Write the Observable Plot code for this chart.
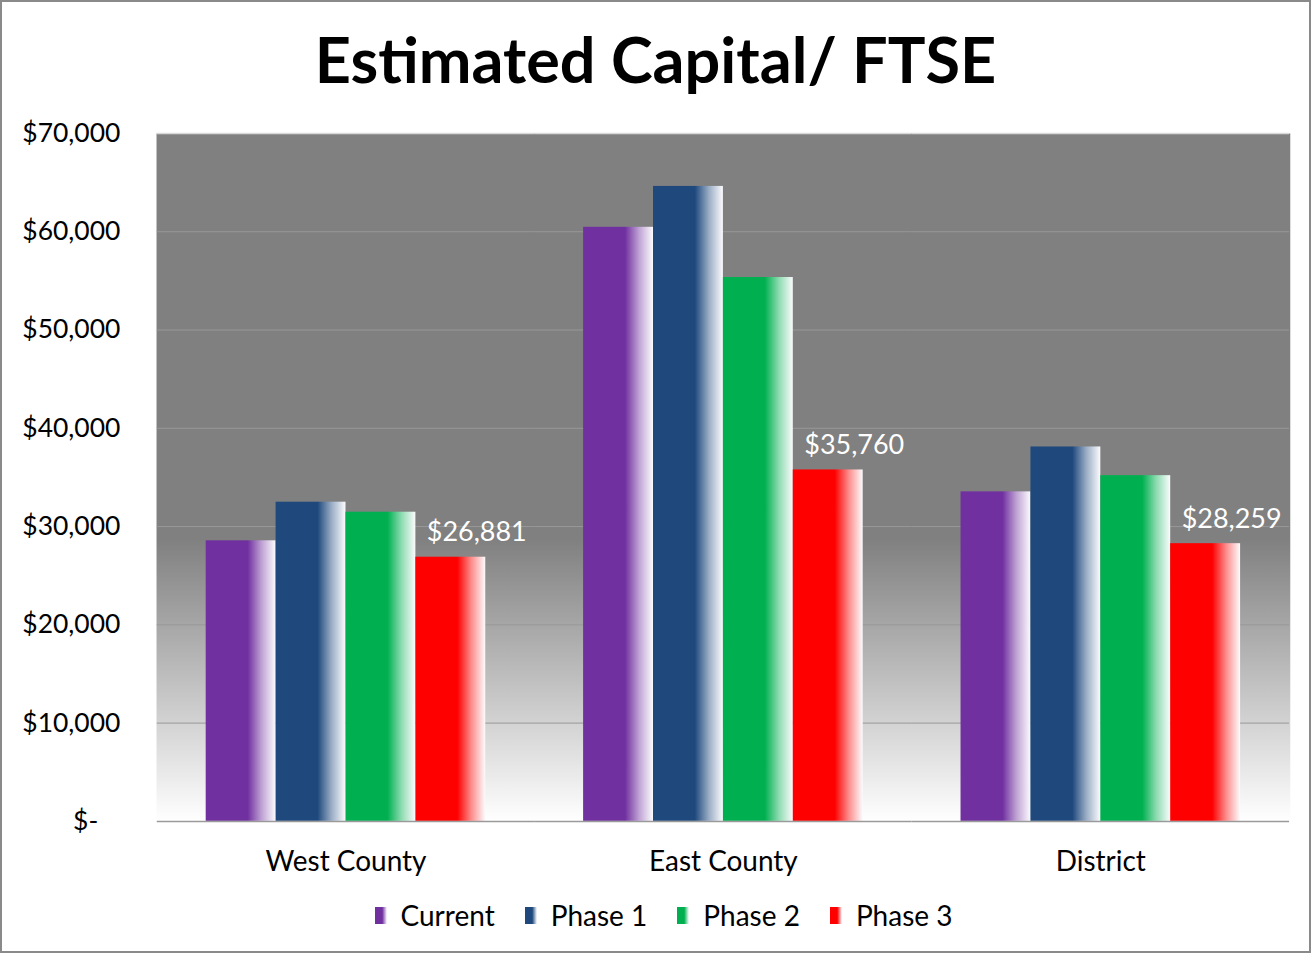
<!DOCTYPE html>
<html>
<head>
<meta charset="utf-8">
<script src="https://cdn.jsdelivr.net/npm/d3@7"></script>
<script src="https://cdn.jsdelivr.net/npm/@observablehq/plot@0.6"></script>
<style>
  html, body { margin: 0; padding: 0; background: #fff; }
  #frame { position: relative; width: 1311px; height: 953px; box-sizing: border-box; border: 2px solid #8a8a8a; background: #fff; font-family: Lato, sans-serif; }
  #title { position: absolute; left: 0; top: 15px; width: 100%; text-align: center; font-weight: 700; font-size: 63px; line-height: 84px; color: #000; }
  #chart { position: absolute; left: -2px; top: 98px; }
  #legend { position: absolute; left: 0; top: 894px; width: 100%; box-sizing: border-box; padding-left: 16px; height: 38px; display: flex; justify-content: center; align-items: center; gap: 30px; font-size: 28px; color: #000; }
  .item { display: flex; align-items: center; gap: 14px; }
  .sw { width: 12px; height: 17px; }
</style>
</head>
<body>
<svg width="0" height="0" style="position:absolute">
  <defs id="defs"></defs>
</svg>
<div id="frame">
  <div id="title">Estimated Capital/ FTSE</div>
  <div id="chart"></div>
  <div id="legend"></div>
</div>
<script>
const categories = ["West County", "East County", "District"];
const series = ["Current", "Phase 1", "Phase 2", "Phase 3"];
const current = [28550, 60450, 33530];
const phase1 = [32480, 64610, 38100];
const phase2 = [31460, 55340, 35180];
const phase3 = [26881, 35760, 28259];
const yTicks = [0, 10000, 20000, 30000, 40000, 50000, 60000, 70000];
const colors = ["#7030A0", "#1F497D", "#00B050", "#FF0000"];

const seriesValues = [current, phase1, phase2, phase3];
const data = [];
categories.forEach((c, ci) => series.forEach((s, si) => data.push({category: c, series: s, value: seriesValues[si][ci]})));
const labelData = data.filter(d => d.series === "Phase 3");

// gradients
const NS = "http://www.w3.org/2000/svg";
const defs = document.getElementById("defs");
function makeGrad(id, stops, vertical) {
  const g = document.createElementNS(NS, "linearGradient");
  g.setAttribute("id", id);
  g.setAttribute("x1", "0"); g.setAttribute("y1", "0");
  g.setAttribute("x2", vertical ? "0" : "1"); g.setAttribute("y2", vertical ? "1" : "0");
  stops.forEach(([o, c]) => {
    const s = document.createElementNS(NS, "stop");
    s.setAttribute("offset", o); s.setAttribute("stop-color", c);
    g.appendChild(s);
  });
  defs.appendChild(g);
}
colors.forEach((c, i) => makeGrad("grad" + i, [[0, c], [0.6, c], [0.8, d3.interpolateRgb(c, "#fff")(0.55)], [1, "#fbfbfd"]], false));
makeGrad("bgGrad", [[0, "#808080"], [0.59, "#808080"], [1, "#ffffff"]], true);

const fmt = v => v === 0 ? "$-\u2007\u00a0" : "$" + d3.format(",")(v);

const chart = Plot.plot({
  width: 1311,
  height: 780,
  marginTop: 33,
  marginBottom: 58,
  marginLeft: 157,
  marginRight: 20,
  style: {fontFamily: "Lato, sans-serif", fontSize: "26.5px", color: "#000", background: "transparent", overflow: "visible"},
  fx: {domain: categories, padding: 0, label: null, tickSize: 0, tickPadding: 30},
  x: {domain: series, axis: null, paddingInner: 0, paddingOuter: 0.662},
  y: {domain: [0, 70000], ticks: yTicks, tickFormat: fmt, tickSize: 0, tickPadding: 37, label: null},
  marks: [
    Plot.frame({fill: "url(#bgGrad)", stroke: null, insetLeft: -0.75, insetRight: -0.75}),
    Plot.ruleY(yTicks.slice(1, -1), {stroke: "#989898", strokeWidth: 1}),
    Plot.ruleY([70000], {stroke: "#d9d9d9", strokeWidth: 1.5}),
    Plot.barY(data, {fx: "category", x: "series", y: "value", fill: d => "url(#grad" + series.indexOf(d.series) + ")"}),
    Plot.text(labelData, {fx: "category", x: "series", y: "value", text: d => fmt(d.value), fill: "white", fontSize: 27, dx: 26, dy: -16, lineAnchor: "bottom"}),
    Plot.ruleY([0], {stroke: "#9a9a9a", strokeWidth: 1.5})
  ]
});
chart.querySelectorAll("[aria-label='fx-axis tick label'] text, g[aria-label='fx-axis tick label']").forEach(el => el.setAttribute("font-size", "28"));
document.getElementById("chart").appendChild(chart);

// legend
const legend = document.getElementById("legend");
series.forEach((s, i) => {
  const item = document.createElement("div");
  item.className = "item";
  const sw = document.createElement("div");
  sw.className = "sw";
  sw.style.background = `linear-gradient(to right, ${colors[i]} 0%, ${colors[i]} 60%, #fff 100%)`;
  const t = document.createElement("span");
  t.textContent = s;
  item.appendChild(sw); item.appendChild(t);
  legend.appendChild(item);
});
</script>
</body>
</html>
